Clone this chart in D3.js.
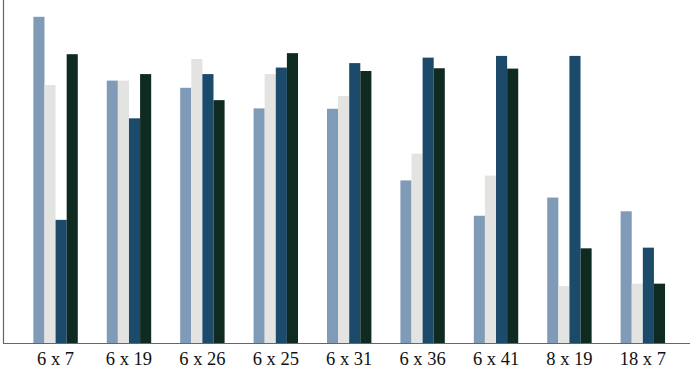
<!DOCTYPE html>
<head>
<meta charset="utf-8">
<title>Grouped Bar Chart</title>
<script src="https://d3js.org/d3.v7.min.js"></script>
<style>
  body { margin: 0; background: #fff; }
</style>
</head>
<body>
  <div id="chart"></div>
</body>
<script>
    // groups and the four series (0 - 100 of the plot height)
    var groups = ["6 x 7", "6 x 19", "6 x 26", "6 x 25", "6 x 31", "6 x 36", "6 x 41", "8 x 19", "18 x 7"];
    var subgroups = ["a", "b", "c", "d"];
    var seriesA = [95.1, 76.5, 74.4, 68.4, 68.3, 47.4, 37.1, 42.4, 38.4];
    var seriesB = [75.2, 76.5, 82.8, 78.4, 72.0, 55.2, 48.8, 16.6, 17.3];
    var seriesC = [35.9, 65.5, 78.4, 80.3, 81.6, 83.2, 83.7, 83.7, 27.8];
    var seriesD = [84.2, 78.4, 70.8, 84.5, 79.3, 80.1, 80.0, 27.6, 17.3];
    var colors = ["#7f9bb7", "#e3e3e1", "#1c4a6b", "#0f2a21"];

    var width = 690, height = 377;
    var baseY = 343;

    var data = groups.map(function(g, i) {
      return { group: g, a: seriesA[i], b: seriesB[i], c: seriesC[i], d: seriesD[i] };
    });

    var svg = d3.select("#chart")
      .append("svg")
        .attr("width", width)
        .attr("height", height);

    var x = d3.scaleBand().domain(groups).range([4, 694.4])
        .paddingInner(0.395).paddingOuter(0.4);
    var xSub = d3.scaleBand().domain(subgroups).range([0, x.bandwidth()]).padding(0);
    var y = d3.scaleLinear().domain([0, 100]).range([baseY, 0]);
    var color = d3.scaleOrdinal().domain(subgroups).range(colors);

    // bars
    svg.append("g")
      .selectAll("g")
      .data(data)
      .enter().append("g")
        .attr("transform", function(d) { return "translate(" + x(d.group) + ",0)"; })
      .selectAll("rect")
      .data(function(d) { return subgroups.map(function(k) { return { key: k, value: d[k] }; }); })
      .enter().append("rect")
        .attr("x", function(d) { return xSub(d.key); })
        .attr("y", function(d) { return y(d.value); })
        .attr("width", xSub.bandwidth())
        .attr("height", function(d) { return baseY - y(d.value); })
        .attr("fill", function(d) { return color(d.key); });

    // axes: plain lines, category labels in serif
    var xAxis = svg.append("g")
      .attr("transform", "translate(0," + baseY + ")")
      .call(d3.axisBottom(x).tickSize(0).tickSizeOuter(0).tickPadding(9));
    xAxis.select(".domain").remove();
    xAxis.attr("font-family", null).attr("font-size", null);
    xAxis.selectAll("text")
      .style("font-family", "'Liberation Serif', serif")
      .style("font-size", "18.5px")
      .attr("fill", "#111");

    svg.append("line")
      .attr("x1", 3).attr("x2", 690)
      .attr("y1", baseY + 0.5).attr("y2", baseY + 0.5)
      .attr("stroke", "#666").attr("stroke-width", 1.2);

    svg.append("line")
      .attr("x1", 3.5).attr("x2", 3.5)
      .attr("y1", 0).attr("y2", baseY)
      .attr("stroke", "#666").attr("stroke-width", 1.2);
</script>
